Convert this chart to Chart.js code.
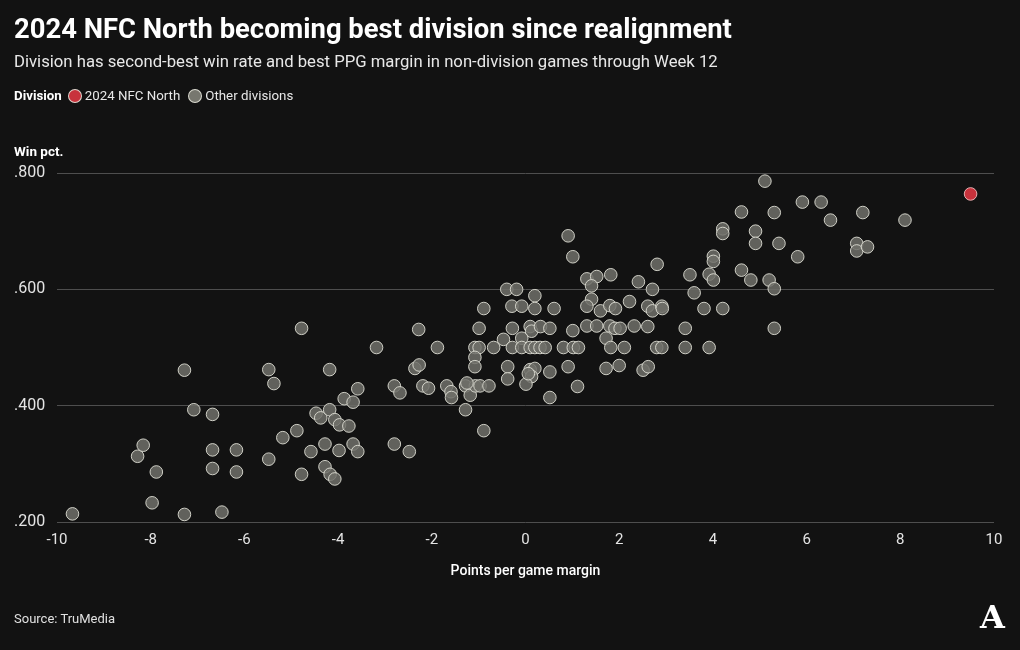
<!DOCTYPE html>
<html>
<head>
<meta charset="utf-8">
<script src="https://cdn.jsdelivr.net/npm/chart.js@4.4.1/dist/chart.umd.min.js"></script>
<style>
  html, body { margin: 0; padding: 0; background: #121212; width: 1020px; height: 650px; overflow: hidden; }
  #wrap { position: relative; width: 1020px; height: 650px; font-family: Roboto, "Noto Sans", "DejaVu Sans", sans-serif; color: #fff; }
  canvas { position: absolute; left: 0; top: 0; }
  .t { position: absolute; white-space: nowrap; }
  #title { left: 14px; top: 13px; font-size: 27.4px; font-weight: 700; color: #fff; }
  #subtitle { left: 14px; top: 52px; font-size: 16.7px; color: #e8e8e8; }
  #legend { left: 14px; top: 88px; font-size: 13.3px; color: #e8e8e8; display: flex; align-items: center; }
  #legend b { color: #fff; margin-right: 6px; }
  .dot { display: inline-block; width: 12px; height: 12px; border-radius: 50%; margin-right: 3px; border: 1px solid rgba(230,230,220,0.9); }
  #ylab { left: 14px; top: 143px; font-size: 13.5px; font-weight: 700; color: #fff; }
  #source { left: 14px; top: 611px; font-size: 13px; color: #e0e0e0; }
  #logo { left: 980px; top: 598px; font-size: 32px; font-weight: 700; font-family: "DejaVu Serif", "Liberation Serif", serif; color: #fff; }
</style>
</head>
<body>
<div id="wrap">
  <canvas id="c" width="1020" height="650"></canvas>
  <div class="t" id="title">2024 NFC North becoming best division since realignment</div>
  <div class="t" id="subtitle">Division has second-best win rate and best PPG margin in non-division games through Week 12</div>
  <div class="t" id="legend"><b>Division</b><span class="dot" style="background:#c8323c"></span><span style="margin-right:8px">2024 NFC North</span><span class="dot" style="background:#77776f"></span><span>Other divisions</span></div>
  <div class="t" id="ylab">Win pct.</div>
  <div class="t" id="source">Source: TruMedia</div>
  <div class="t" id="logo">A</div>
</div>
<script>
// ---- Data ----
const seriesNames = ['2024 NFC North', 'Other divisions'];

const nfcNorthMargin = [9.50];
const nfcNorthWinPct = [0.764];

const otherMargin = [
  -9.67, -8.28, -8.16, -7.88, -7.97, -7.28, -7.08, -7.28, -6.68, -6.68,
  -6.68, -6.17, -6.17, -6.48, -5.48, -5.48, -5.37, -5.18, -4.88, -4.78,
  -4.78, -4.18, -4.58, -4.28, -4.28, -4.17, -4.07, -4.47, -4.37, -4.18,
  -4.07, -3.97, -3.77, -3.87, -3.68, -3.58, -3.98, -3.68, -3.58, -3.18,
  -2.80, -2.68, -2.80, -2.48, -2.28, -2.36, -2.27, -2.19, -2.07, -1.88,
  -1.68, -1.59, -1.58, -1.28, -1.18, -1.07, -0.97, -0.78, -1.28, -0.89,
  -1.08, -0.99, -0.68, -1.08, -1.08, -0.99, -0.89, -0.40, -0.19, 0.20,
  -0.29, -0.08, 0.20, -0.28, 0.10, 0.13, -0.47, -0.08, -0.28, -0.08,
  0.10, 0.20, 0.31, 0.42, -0.38, -0.38, 0.10, 0.20, 0.13, 0.01,
  0.52, 0.52, -1.25, 0.06,
  0.91, 1.01, 2.81, 3.51, 3.60, 1.31, 1.52, 1.41, 1.82, 2.41,
  2.71, 0.61, 1.41, 1.31, 1.60, 1.80, 1.92, 2.22, 2.61, 2.71,
  2.91, 2.92, 3.81, 0.32, 0.52, 1.01, 1.31, 1.52, 1.80, 1.91,
  2.02, 2.32, 2.61, 3.41, 1.72, 0.81, 1.02, 1.13, 1.82, 2.11,
  2.80, 2.91, 3.41, 0.91, 1.11, 1.72, 2.00, 2.51, 2.62, 5.11,
  5.91, 6.31, 6.51, 4.61, 5.31, 4.21, 4.21, 4.91, 4.91, 5.41,
  5.81, 7.07, 7.07, 7.30, 7.20, 8.10, 4.01, 4.01, 3.92, 4.01,
  4.61, 4.81, 5.20, 5.31, 4.21, 5.31, 3.92
];
const otherWinPct = [
  0.214, 0.313, 0.332, 0.286, 0.233, 0.461, 0.393, 0.213, 0.385, 0.324,
  0.292, 0.324, 0.286, 0.217, 0.308, 0.462, 0.438, 0.345, 0.357, 0.282,
  0.533, 0.462, 0.321, 0.334, 0.295, 0.282, 0.274, 0.387, 0.379, 0.393,
  0.376, 0.367, 0.365, 0.412, 0.406, 0.429, 0.323, 0.334, 0.321, 0.500,
  0.434, 0.422, 0.334, 0.321, 0.531, 0.464, 0.470, 0.434, 0.430, 0.500,
  0.434, 0.424, 0.414, 0.434, 0.418, 0.434, 0.434, 0.434, 0.393, 0.357,
  0.500, 0.500, 0.500, 0.483, 0.467, 0.533, 0.567, 0.600, 0.600, 0.589,
  0.571, 0.571, 0.567, 0.533, 0.536, 0.528, 0.514, 0.516, 0.500, 0.500,
  0.500, 0.500, 0.500, 0.500, 0.467, 0.446, 0.462, 0.464, 0.450, 0.437,
  0.458, 0.414, 0.439, 0.455,
  0.692, 0.656, 0.643, 0.625, 0.594, 0.618, 0.622, 0.606, 0.625, 0.613,
  0.600, 0.567, 0.583, 0.571, 0.563, 0.572, 0.567, 0.579, 0.571, 0.563,
  0.571, 0.567, 0.567, 0.536, 0.533, 0.529, 0.537, 0.537, 0.537, 0.533,
  0.533, 0.537, 0.536, 0.533, 0.516, 0.500, 0.500, 0.500, 0.500, 0.500,
  0.500, 0.500, 0.500, 0.467, 0.433, 0.464, 0.469, 0.461, 0.467, 0.786,
  0.750, 0.750, 0.719, 0.733, 0.732, 0.704, 0.696, 0.700, 0.679, 0.679,
  0.656, 0.679, 0.666, 0.673, 0.732, 0.719, 0.657, 0.648, 0.626, 0.616,
  0.633, 0.616, 0.616, 0.601, 0.567, 0.533, 0.500
];

const xTickValues = [-10, -8, -6, -4, -2, 0, 2, 4, 6, 8, 10];
const yTickLabels = ['.200', '.400', '.600', '.800'];

// ---- Chart ----
const toPoints = (xs, ys) => xs.map((x, i) => ({ x: x, y: ys[i] }));

new Chart(document.getElementById('c'), {
  type: 'scatter',
  data: {
    datasets: [
      {
        label: seriesNames[1],
        data: toPoints(otherMargin, otherWinPct),
        backgroundColor: 'rgba(112,112,106,0.85)',
        borderColor: 'rgba(222,222,212,0.9)',
        borderWidth: 1,
        pointRadius: 6.3,
        order: 2
      },
      {
        label: seriesNames[0],
        data: toPoints(nfcNorthMargin, nfcNorthWinPct),
        backgroundColor: '#c8323c',
        borderColor: 'rgba(240,190,190,0.9)',
        borderWidth: 1,
        pointRadius: 6.3,
        order: 1
      }
    ]
  },
  options: {
    responsive: false,
    devicePixelRatio: 1,
    animation: false,
    events: [],
    layout: { padding: { left: 14, right: 26, top: 173, bottom: 0 } },
    plugins: { legend: { display: false }, tooltip: { enabled: false } },
    scales: {
      x: {
        type: 'linear',
        min: -10, max: 10,
        afterBuildTicks: (s) => { s.ticks = xTickValues.map(v => ({ value: v })); },
        afterFit: (s) => { s.height = 128; },
        grid: { display: false, drawTicks: false },
        border: { display: false },
        ticks: {
          color: '#e4e4e4',
          font: { family: 'Roboto, "Noto Sans", sans-serif', size: 15 },
          padding: 9,
          callback: (v) => String(v)
        },
        title: {
          display: true,
          text: 'Points per game margin',
          color: '#ffffff',
          font: { family: 'Roboto, "Noto Sans", sans-serif', size: 14, weight: '500' },
          padding: { top: 0, bottom: 70 }
        }
      },
      y: {
        type: 'linear',
        min: 0.2, max: 0.8,
        afterBuildTicks: (s) => { s.ticks = [0.2, 0.4, 0.6, 0.8].map(v => ({ value: v })); },
        afterFit: (s) => { s.width = 43; },
        grid: { color: '#4e4e4e', lineWidth: 1, drawTicks: false },
        border: { display: false },
        ticks: {
          color: '#e4e4e4',
          crossAlign: 'far',
          padding: 0,
          font: { family: 'Roboto, "Noto Sans", sans-serif', size: 16 },
          callback: (v, i) => yTickLabels[i]
        }
      }
    }
  }
});
</script>
</body>
</html>
